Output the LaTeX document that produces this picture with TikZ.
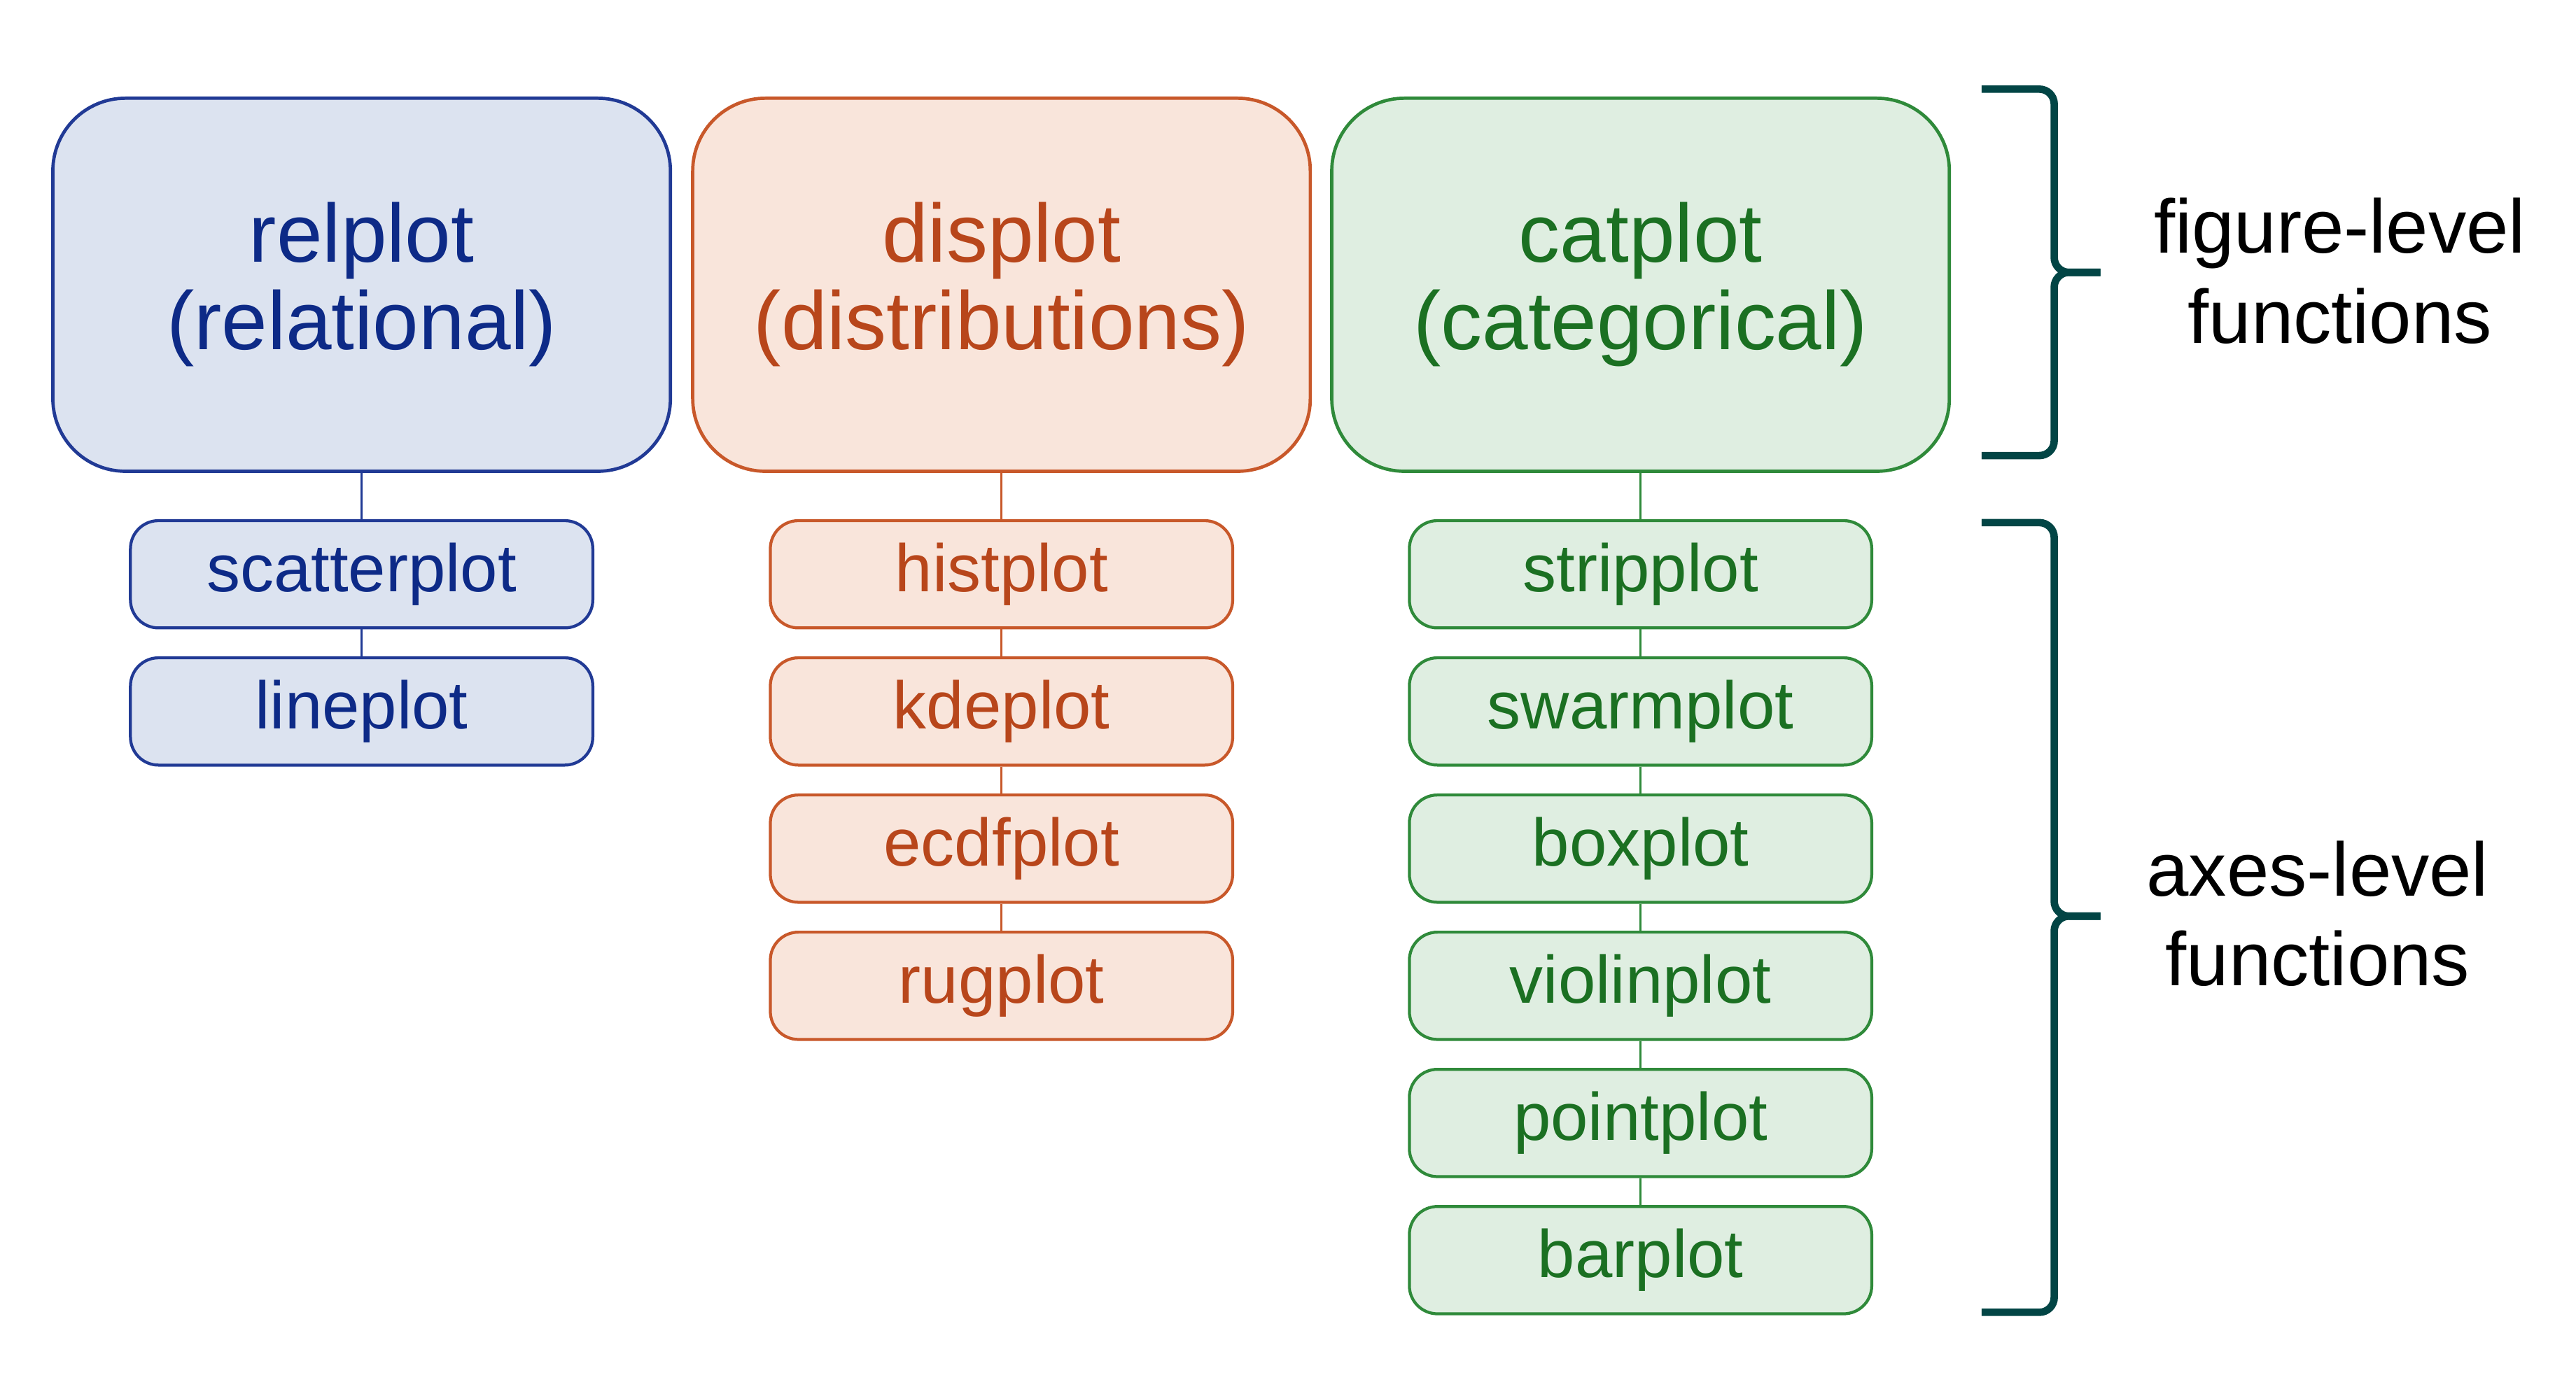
\documentclass[tikz,border=0pt]{standalone}
\usepackage{fontspec}
\setmainfont{Liberation Sans}
\definecolor{bfill}{HTML}{DCE3F0}
\definecolor{bdraw}{HTML}{213A95}
\definecolor{btext}{HTML}{0D2A87}
\definecolor{ofill}{HTML}{F9E5DB}
\definecolor{odraw}{HTML}{C8582A}
\definecolor{otext}{HTML}{B8461B}
\definecolor{gfill}{HTML}{DFEEE1}
\definecolor{gdraw}{HTML}{2F8A3A}
\definecolor{gtext}{HTML}{1B7022}
\definecolor{bracecol}{HTML}{024545}
\begin{document}
\begin{tikzpicture}[x=1pt,y=-1pt,
  bigbox/.style={draw, rounded corners=44pt, minimum width=374pt, minimum height=226pt,
    line width=2pt, align=center, inner sep=0pt, font=\fontsize{50}{53}\selectfont},
  smallbox/.style={draw, rounded corners=17pt, minimum width=280pt, minimum height=65pt,
    line width=1.8pt, inner sep=0pt, font=\fontsize{40.7}{45}\selectfont},
  blue/.style={fill=bfill, draw=bdraw, text=btext},
  orange/.style={fill=ofill, draw=odraw, text=otext},
  green/.style={fill=gfill, draw=gdraw, text=gtext},
  link/.style={line width=1.3pt},
  bracepath/.style={draw=bracecol, line width=4.5pt, rounded corners=9pt},
  sidetext/.style={align=center, inner sep=0pt, font=\fontsize{46}{54.5}\selectfont, text=black}
]
\useasboundingbox (0,0) rectangle (1560,837.2);

% figure-level
\node[bigbox, blue]   (rel) at (219,172.5)   {relplot\\(relational)};
\node[bigbox, orange] (dis) at (606.5,172.5) {displot\\(distributions)};
\node[bigbox, green]  (cat) at (993.5,172.5) {catplot\\(categorical)};

% axes-level: relational
\node[smallbox, blue] (scatter) at (219,347.9) {scatterplot};
\node[smallbox, blue] (line)    at (219,431.0) {lineplot};

% distributions
\node[smallbox, orange] (hist) at (606.5,347.9) {histplot};
\node[smallbox, orange] (kde)  at (606.5,431.0) {kdeplot};
\node[smallbox, orange] (ecdf) at (606.5,514.1) {ecdfplot};
\node[smallbox, orange] (rug)  at (606.5,597.2) {rugplot};

% categorical
\node[smallbox, green] (strip)  at (993.5,347.9) {stripplot};
\node[smallbox, green] (swarm)  at (993.5,431.0) {swarmplot};
\node[smallbox, green] (box)    at (993.5,514.1) {boxplot};
\node[smallbox, green] (violin) at (993.5,597.2) {violinplot};
\node[smallbox, green] (point)  at (993.5,680.3) {pointplot};
\node[smallbox, green] (bar)    at (993.5,763.4) {barplot};

% connectors
\draw[link, bdraw] (rel.south) -- (scatter.north);
\draw[link, bdraw] (scatter.south) -- (line.north);
\draw[link, odraw] (dis.south) -- (hist.north);
\draw[link, odraw] (hist.south) -- (kde.north);
\draw[link, odraw] (kde.south) -- (ecdf.north);
\draw[link, odraw] (ecdf.south) -- (rug.north);
\draw[link, gdraw] (cat.south) -- (strip.north);
\draw[link, gdraw] (strip.south) -- (swarm.north);
\draw[link, gdraw] (swarm.south) -- (box.north);
\draw[link, gdraw] (box.south) -- (violin.north);
\draw[link, gdraw] (violin.south) -- (point.north);
\draw[link, gdraw] (point.south) -- (bar.north);

% braces
\coordinate (b1top) at (1200,54);
\coordinate (b1tip) at (1272,165);
\coordinate (b1bot) at (1200,276);
\draw[bracepath] (b1top) -- (1244,54) -- (1244,165) -- (b1tip);
\draw[bracepath] (b1tip) -- (1244,165) -- (1244,276) -- (b1bot);

\coordinate (b2top) at (1200,316.6);
\coordinate (b2tip) at (1272,555);
\coordinate (b2bot) at (1200,795);
\draw[bracepath] (b2top) -- (1244,316.6) -- (1244,555) -- (b2tip);
\draw[bracepath] (b2tip) -- (1244,555) -- (1244,795) -- (b2bot);

% side labels
\node[sidetext] (figlabel) at (1417,164.2) {figure-level\\functions};
\node[sidetext] (axlabel)  at (1403.5,553.5) {axes-level\\functions};
\end{tikzpicture}
\end{document}
